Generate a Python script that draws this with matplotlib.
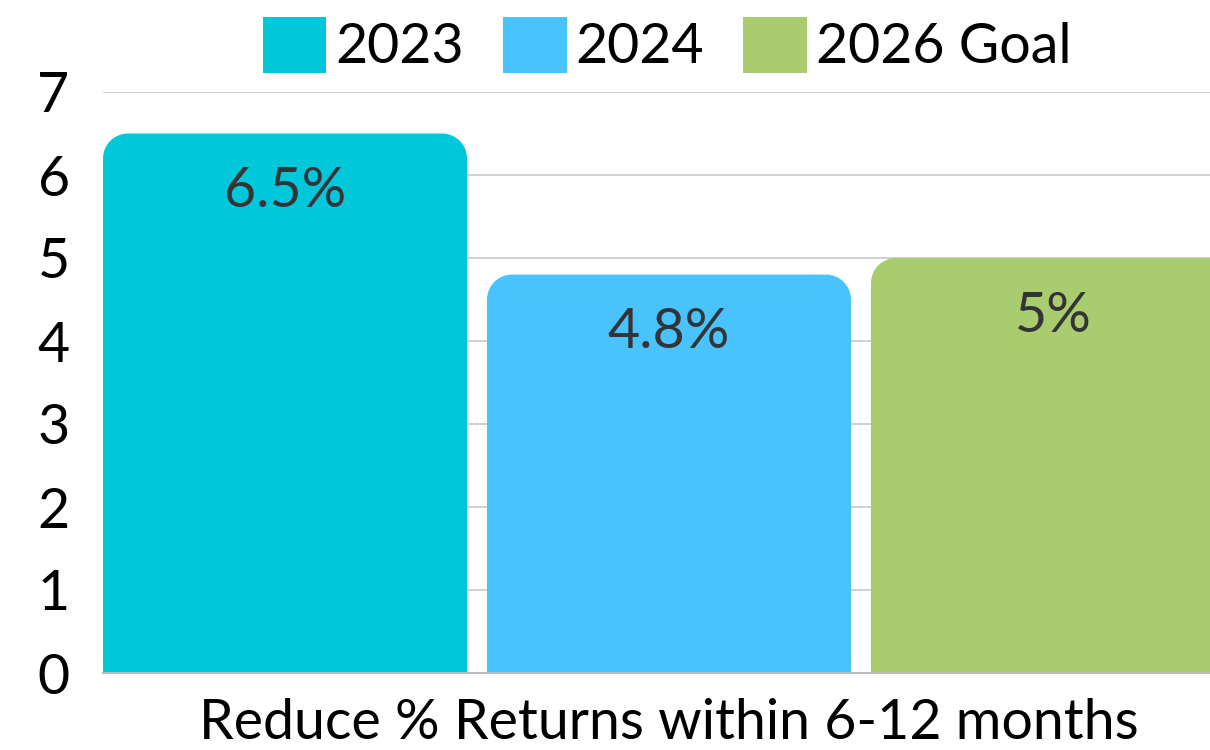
import numpy as np
import matplotlib
matplotlib.use("Agg")
import matplotlib.pyplot as plt
from matplotlib.path import Path
from matplotlib.patches import PathPatch, Patch

# data
category = "Reduce % Returns within 6-12 months"
series = ["2023", "2024", "2026 Goal"]
values = [6.5, 4.8, 5.0]
labels = ["6.5%", "4.8%", "5%"]
colors = ["#00c8da", "#48c3fc", "#a9cc6e"]
yticks = [0, 1, 2, 3, 4, 5, 6, 7]

plt.rcParams["font.family"] = ["Lato", "DejaVu Sans"]
FS = 40

fig = plt.figure(figsize=(12.1, 7.5), dpi=100)
ax = fig.add_axes([103 / 1210, 77 / 750, 1132 / 1210, 581 / 750])

width = 0.948
offsets = np.arange(len(series)) - (len(series) - 1) / 2


def rounded_top(x0, y0, w, h, rx, ry):
    # rectangle whose two top corners are rounded
    k = 0.5523
    verts = [
        (x0, y0),
        (x0, y0 + h - ry),
        (x0, y0 + h - ry + k * ry), (x0 + rx - k * rx, y0 + h), (x0 + rx, y0 + h),
        (x0 + w - rx, y0 + h),
        (x0 + w - rx + k * rx, y0 + h), (x0 + w, y0 + h - ry + k * ry), (x0 + w, y0 + h - ry),
        (x0 + w, y0),
        (x0, y0),
    ]
    codes = [Path.MOVETO, Path.LINETO,
             Path.CURVE4, Path.CURVE4, Path.CURVE4,
             Path.LINETO,
             Path.CURVE4, Path.CURVE4, Path.CURVE4,
             Path.LINETO, Path.CLOSEPOLY]
    return Path(verts, codes)


ax.set_xlim(offsets[0] - width / 2, offsets[-1] + width / 2)
ax.set_ylim(0, 7)

# corner radius in data units (about 25 px each way)
ax_w_px = 1132
ax_h_px = 581
xr = ax.get_xlim()[1] - ax.get_xlim()[0]
rx = 25 * xr / ax_w_px
ry = 25 * 7 / ax_h_px

handles = []
for off, v, lab, c, s in zip(offsets, values, labels, colors, series):
    bars = ax.bar(off, v, width=width, color=c, zorder=2)
    rect = bars[0]
    x0, y0 = rect.get_x(), rect.get_y()
    w, h = rect.get_width(), rect.get_height()
    rect.set_visible(False)
    ax.add_patch(PathPatch(rounded_top(x0, y0, w, h, rx, ry), facecolor=c,
                           edgecolor="none", zorder=2))
    ax.text(off, v - 0.7, lab, ha="center", va="center", fontsize=FS,
            color="#333438", zorder=3)
    handles.append(Patch(facecolor=c, label=s))

ax.set_yticks(yticks)
ax.set_yticklabels([str(t) for t in yticks], fontsize=FS)
ax.set_xticks([0])
ax.set_xticklabels([category], fontsize=FS)
ax.tick_params(axis="both", length=0)
ax.tick_params(axis="y", pad=24)
ax.tick_params(axis="x", pad=18)

ax.grid(axis="y", color="#c8c8c8", linewidth=1.2, zorder=0)
ax.set_axisbelow(True)
for side in ["top", "right", "left"]:
    ax.spines[side].set_visible(False)
ax.spines["bottom"].set_color("#bbbbbb")
ax.spines["bottom"].set_linewidth(1.5)

fig.legend(handles=handles, loc="center", bbox_to_anchor=(667 / 1210, 1 - 45 / 750),
           ncol=3, frameon=False, fontsize=FS, handlelength=1.15, handleheight=1.17,
           handletextpad=0.16, columnspacing=0.7, borderpad=0, borderaxespad=0)

fig.savefig("out.png", dpi=100)
